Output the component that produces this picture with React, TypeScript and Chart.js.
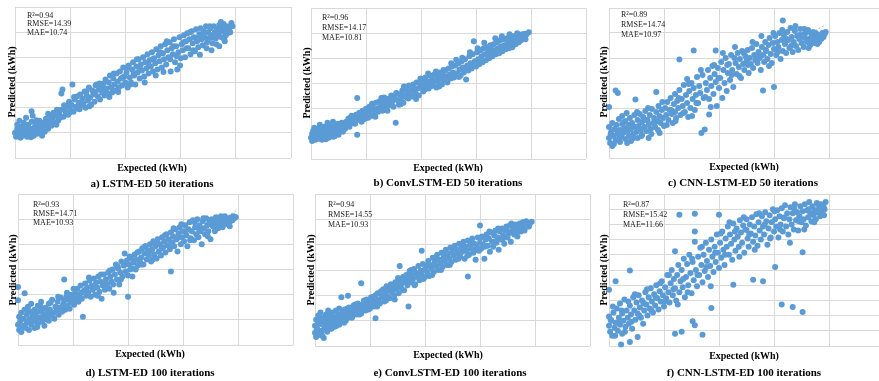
import React, { useEffect, useRef } from "react";
import { Chart, registerables } from "chart.js";
Chart.register(...registerables);

type P = [number, number];

const xMax = 250;
const xStep = 50;
const yMax = 300;
const yStepsByPanel = [50, 50, 50, 50, 50, 30];
const xAxisTitle = "Expected (kWh)";
const yAxisTitle = "Predicted (kWh)";
const captions = [
  "a) LSTM-ED 50 iterations",
  "b) ConvLSTM-ED 50 iterations",
  "c) CNN-LSTM-ED 50 iterations",
  "d) LSTM-ED 100 iterations",
  "e) ConvLSTM-ED 100 iterations",
  "f) CNN-LSTM-ED 100 iterations",
];
const r2Values = ["0.94", "0.96", "0.89", "0.93", "0.94", "0.87"];
const rmseValues = ["14.39", "14.17", "14.74", "14.71", "14.55", "15.42"];
const maeValues = ["10.74", "10.81", "10.97", "10.93", "10.93", "11.66"];

const lstmEd50: P[] = [
  [0,50],[1,42],[2,58],[2,66],[3,46],[4,54],[4,74],[5,40],[6,62],[6,50],[7,44],[8,70],[8,56],[9,48],[10,60],[10,80],[11,42],[12,52],[12,66],[13,46],[14,58],[15,72],[15,93],[16,50],[16,84],[17,44],[18,62],[18,54],[19,68],[20,48],[21,58],[22,74],[22,52],[23,64],[24,56],[25,70],[26,60],[27,52],[28,78],[29,64],[30,58],[30,88],
  [31,70],[32,80],[33,64],[34,76],[35,90],[36,70],[37,84],[38,96],[39,74],[40,88],[41,80],[42,96],[42,128],[43,136],[44,82],[45,98],[46,90],[47,104],[48,86],[49,112],[50,96],[51,106],[52,146],[53,92],[54,116],[55,102],[56,122],[57,98],[58,110],[59,126],[60,104],
  [61,118],[62,108],[63,132],[64,100],[65,124],[66,114],[67,140],[68,120],[69,106],[70,134],[71,126],[72,112],[73,144],[74,146],[75,122],[76,136],[77,116],[78,140],[79,130],[80,148],[81,124],[82,156],[83,138],[84,128],[85,150],[86,164],[87,140],[88,130],[89,158],[90,146],[91,134],[92,168],[93,152],[94,140],[95,172],[96,158],[97,144],[98,180],[99,162],[100,150],
  [101,170],[102,140],[103,184],[104,160],[105,150],[106,176],[107,190],[108,164],[109,146],[110,182],[111,170],[112,196],[113,158],[114,186],[115,174],[116,200],[117,162],[118,190],[119,178],[120,206],[121,168],[122,194],[123,182],[124,210],[125,172],[126,198],[127,188],[128,216],[129,176],[130,204],[131,192],[132,222],[133,180],[134,208],[135,196],[136,226],[137,186],[138,214],[139,200],[140,230],[141,172],[142,218],[143,206],[144,236],[145,190],[146,222],[147,176],[148,210],[149,240],[150,198],
  [151,226],[152,214],[153,244],[154,200],[155,232],[156,248],[157,218],[158,236],[159,206],[160,252],[161,228],[162,240],[163,212],[164,256],[165,232],[166,220],[167,246],[168,258],[169,236],[170,224],[171,252],[172,240],[173,262],[174,230],[175,250],[176,238],[177,258],[178,214],[178,244],[179,228],[180,262],[181,250],[182,238],[183,256],[184,246],[185,222],[185,264],[186,252],[187,240],[188,258],[189,266],[190,232],[190,250],[191,244],[192,262],[193,254],[194,258],[195,250],[196,268],[197,262],
  [3.5,57],[7.5,64],[11.5,55],[14.5,41],[19.5,75],[24.5,44],[27.5,70],[33.5,85],[37.5,66],[44.5,105],[49.5,90],[53.5,121],[58.5,97],[64.5,132],[67.5,103],[72.5,131],[76.5,148],[81.5,137],[85.5,121],[89.5,168],[93.5,131],[97.5,160],[101.5,180],[104.5,146],[107.5,168],[110.5,196],[113.5,176],[117.5,150],[120.5,188],[124.5,196],[127.5,164],[131.5,210],[134.5,171],[137.5,232],[140.5,196],[143.5,222],[146.5,202],[149.5,184],[152.5,230],[155.5,218],[158.5,250],[161.5,214],[164.5,238],[167.5,205],[170.5,244],[173.5,218],[176.5,262],[179.5,240],[182.5,226],[186.5,270],[189.5,236],[192.5,248],[195.5,262],
];

const convLstmEd50: P[] = [
  [0,42],[1,50],[1,36],[2,56],[3,44],[3,62],[4,38],[5,52],[6,46],[6,60],[7,40],[8,54],[8,68],[9,46],[10,58],[10,38],[11,50],[12,64],[12,44],[13,56],[14,48],[15,62],[15,72],[16,42],[17,54],[18,66],[18,48],[19,58],[20,44],[20,74],[21,62],[22,52],[23,68],[24,56],[25,48],[26,64],[27,58],[28,72],[29,54],[30,66],
  [31,60],[32,74],[33,68],[34,80],[35,64],[36,76],[37,86],[38,72],[39,82],[40,70],[41,88],[42,121],[42,48],[43,78],[44,92],[45,84],[46,74],[47,96],[48,86],[49,80],[50,100],[51,90],[52,82],[53,104],[54,94],[55,86],[56,108],[57,98],[58,90],[59,112],[60,100],[61,94],[62,114],[63,104],[64,121],[65,96],[66,110],[67,118],[68,102],[69,112],[70,106],
  [71,120],[72,108],[73,126],[74,114],[75,104],[76,122],[77,72],[78,130],[79,116],[80,108],[81,128],[82,120],[83,136],[84,112],[85,126],[86,140],[87,122],[88,132],[89,146],[90,128],[91,138],[92,124],[93,148],[94,136],[95,130],[96,152],[97,140],[98,126],[99,150],[100,142],[101,156],[102,134],[103,148],[104,162],[105,144],[106,154],[107,140],[108,166],[109,150],[110,158],[111,146],[112,168],[113,156],[114,142],[115,164],[116,152],[117,172],[118,160],[119,148],[120,166],
  [121,156],[122,176],[123,164],[124,152],[125,180],[126,168],[127,160],[128,184],[129,172],[130,162],[131,186],[132,197],[133,170],[134,190],[135,178],[136,166],[137,194],[138,182],[139,172],[140,198],[141,158],[142,186],[143,176],[144,204],[145,190],[146,180],[147,208],[148,234],[149,194],[150,184],[151,212],[152,198],[153,188],[154,216],[155,204],[156,192],[157,220],[158,208],[159,196],[160,222],[161,212],[162,200],[163,226],[164,214],[165,204],
  [166,228],[167,216],[168,208],[169,232],[170,220],[171,210],[172,236],[173,224],[174,214],[175,238],[176,226],[177,218],[178,240],[179,230],[180,220],[181,242],[182,232],[183,222],[184,244],[185,234],[186,228],[187,246],[188,238],[189,232],[190,242],[191,236],[192,248],[193,240],[194,244],[195,238],[196,248],[198,252],
  [2.5,47],[5.5,41],[9.5,63],[13.5,39],[16.5,59],[21.5,45],[24.5,70],[28.5,60],[32.5,66],[35.5,82],[39.5,71],[43.5,90],[47.5,79],[51.5,97],[55.5,110],[58.5,84],[62.5,101],[66.5,122],[69.5,96],[73.5,118],[77.5,131],[81.5,109],[84.5,144],[88.5,120],[92.5,141],[95.5,119],[99.5,160],[103.5,138],[106.5,170],[109.5,145],[113.5,174],[116.5,144],[120.5,177],[123.5,159],[127.5,190],[130.5,170],[134.5,163],[137.5,201],[141.5,178],[144.5,212],[147.5,186],[151.5,220],[154.5,196],[157.5,231],[160.5,206],[163.5,219],[167.5,240],[170.5,212],[173.5,244],[177.5,226],[180.5,248],[184.5,230],[187.5,250],[191.5,241],[194.5,249],
];

const cnnLstmEd50: P[] = [
  [0,40],[0,62],[0,102],[1,30],[2,52],[3,24],[3,70],[4,44],[5,58],[6,135],[6,36],[7,66],[8,130],[8,48],[9,78],[10,56],[10,32],[11,42],[12,68],[12,84],[13,50],[14,60],[15,38],[15,74],[16,90],[17,54],[18,44],[18,66],[19,80],[20,58],[20,34],[21,70],[22,48],[23,86],[24,117],[24,62],[25,52],[26,76],[26,40],[27,64],[28,88],[29,56],[30,72],[30,46],[31,82],[32,62],[33,94],[34,54],[35,76],[36,66],[36,40],[37,86],[38,58],[39,98],[40,70],[41,80],[42,62],[43,132],[43,92],[44,74],[45,104],[46,50],[46,84],[47,70],[48,96],[49,80],[50,64],
  [51,100],[52,86],[53,112],[54,76],[55,96],[56,120],[57,88],[58,70],[59,108],[60,128],[60,92],[61,80],[62,114],[63,100],[64,197],[64,136],[65,86],[66,118],[67,104],[68,146],[69,92],[70,126],[71,158],[71,110],[72,82],[73,134],[74,100],[75,150],[76,118],[77,215],[77,140],[78,96],[79,126],[80,162],[81,110],[82,144],[83,130],[84,50],[85,166],[86,120],[87,57],[88,150],[89,136],[90,176],[91,87],[91,118],[92,160],[93,144],[94,184],[95,128],[96,168],[97,215],[97,152],[98,104],[99,180],[100,140],
  [101,160],[102,192],[103,120],[104,176],[105,150],[106,200],[107,134],[108,170],[109,188],[110,156],[111,206],[112,176],[113,142],[114,200],[115,190],[116,168],[117,210],[118,182],[119,198],[120,160],[121,214],[122,188],[123,176],[124,204],[125,194],[126,216],[127,170],[128,200],[129,188],[130,220],[131,180],[132,206],[133,196],[134,228],[135,190],[136,212],[137,200],[138,176],[139,222],[140,135],[140,206],[141,192],[142,232],[143,214],[144,198],[145,226],[146,240],[147,208],[148,190],[149,230],[150,142],[150,218],
  [151,244],[152,206],[153,232],[154,222],[155,250],[156,198],[157,236],[158,275],[158,214],[159,246],[160,228],[161,210],[162,252],[163,236],[164,220],[165,260],[166,242],[167,212],[168,232],[169,254],[170,224],[171,244],[172,216],[173,238],[174,258],[175,230],[176,246],[177,222],[178,240],[179,250],[180,232],[181,256],[182,238],[183,226],[184,248],[185,236],[186,242],[187,230],[188,250],[189,240],[190,246],[191,232],[192,244],[193,238],[194,250],[195,242],[196,248],[197,252],
  [1.5,48],[4.5,28],[7.5,54],[9.5,40],[13.5,72],[16.5,30],[19.5,62],[22.5,40],[25.5,92],[29.5,44],[32.5,76],[35.5,100],[38.5,48],[41.5,70],[44.5,56],[48.5,112],[52.5,66],[56.5,96],[60.5,74],[63.5,120],[67.5,90],[72.5,148],[75.5,84],[79.5,110],[83.5,176],[87.5,122],[92.5,102],[95.5,186],[99.5,160],[103.5,210],[107.5,186],[111.5,166],[114.5,222],[118.5,164],[122.5,210],[126.5,186],[130.5,232],[134.5,206],[138.5,244],[142.5,216],[145.5,184],[149.5,250],[153.5,212],[157.5,256],[161.5,238],[165.5,224],[169.5,264],[173.5,246],[177.5,258],[181.5,220],[185.5,252],[189.5,228],[193.5,246],
];

const lstmEd100: P[] = [
  [0,115],[0,89],[0,40],[1,30],[1,56],[2,46],[3,64],[3,26],[4,38],[5,52],[6,103],[6,70],[7,34],[8,60],[8,44],[9,76],[10,50],[10,30],[11,66],[12,40],[12,82],[13,56],[14,46],[15,70],[15,34],[16,60],[17,50],[18,78],[18,42],[19,66],[20,54],[21,86],[22,46],[22,70],[23,60],[24,38],[25,74],[26,54],[27,64],[28,48],[28,82],[29,70],[30,58],[31,90],[32,64],[33,52],[34,76],[35,68],[36,86],[37,60],[38,74],[39,94],[40,66],[41,80],[42,130],[42,88],[43,70],[44,96],
  [45,78],[46,90],[47,72],[48,100],[49,84],[50,94],[51,80],[52,104],[53,90],[54,112],[55,86],[56,100],[57,118],[58,92],[59,56],[60,108],[61,122],[62,98],[63,114],[64,104],[65,128],[66,96],[67,118],[68,110],[69,132],[70,100],[71,124],[72,114],[73,136],[74,106],[75,126],[76,92],[77,118],[78,140],[79,110],[80,130],[81,120],[82,144],[83,112],[84,136],[85,126],[86,150],[87,104],[88,140],[89,160],[90,130],[91,152],[92,120],[93,144],[94,166],[95,136],[96,158],[97,182],[98,146],[99,168],[100,96],[100,138],
  [101,160],[102,150],[103,172],[104,136],[105,164],[106,180],[107,150],[108,170],[109,158],[110,186],[111,164],[112,174],[113,192],[114,160],[115,182],[116,196],[117,170],[118,188],[119,178],[120,200],[121,166],[122,190],[123,206],[124,180],[125,196],[126,172],[127,210],[128,186],[129,200],[130,178],[131,214],[132,194],[133,206],[134,184],[135,220],[136,198],[137,210],[138,190],[139,146],[139,224],[140,204],[141,216],[142,196],[143,230],[144,210],[145,186],[146,222],[147,234],[148,200],[149,214],[150,226],
  [151,206],[152,238],[153,218],[154,196],[155,230],[156,244],[157,212],[158,226],[159,248],[160,208],[161,234],[162,220],[163,250],[164,214],[165,238],[166,226],[167,200],[168,246],[169,232],[170,220],[171,252],[172,238],[173,226],[174,244],[175,210],[176,250],[177,236],[178,246],[179,226],[180,254],[181,240],[182,232],[183,248],[184,242],[185,252],[186,234],[187,246],[188,256],[189,240],[190,250],[191,244],[192,252],[193,246],[194,254],[195,248],[196,256],[198,254],
  [2.5,50],[5.5,36],[8.5,72],[11.5,48],[14.5,62],[17.5,36],[20.5,76],[23.5,50],[26.5,70],[29.5,84],[33.5,64],[36.5,96],[40.5,76],[44.5,104],[47.5,88],[50.5,112],[54.5,96],[57.5,104],[61.5,110],[64.5,134],[68.5,116],[72.5,98],[75.5,140],[79.5,122],[83.5,148],[86.5,120],[90.5,156],[93.5,130],[97.5,160],[101.5,176],[104.5,152],[108.5,184],[112.5,160],[115.5,196],[119.5,186],[122.5,170],[126.5,206],[130.5,192],[133.5,218],[137.5,198],[141.5,232],[145.5,214],[148.5,240],[152.5,226],[156.5,208],[160.5,244],[164.5,230],[168.5,252],[172.5,216],[176.5,242],[180.5,232],[184.5,256],[188.5,244],[192.5,236],[196.5,252],
];

const convLstmEd100: P[] = [
  [0,40],[0,26],[1,52],[1,18],[2,34],[3,60],[3,44],[4,22],[5,50],[5,66],[6,30],[7,42],[8,56],[8,16],[9,36],[10,62],[10,46],[11,28],[12,54],[12,70],[13,40],[14,60],[15,34],[15,48],[16,66],[17,44],[18,56],[18,38],[19,70],[20,50],[21,62],[22,42],[22,74],[23,56],[24,96],[24,48],[25,66],[26,58],[27,72],[28,50],[29,64],[30,99],[30,56],[31,76],[32,62],[33,70],[34,58],[35,80],[36,66],[37,74],[38,62],[39,84],[40,70],[41,78],[42,124],[42,64],
  [43,82],[44,74],[45,88],[46,70],[47,92],[48,80],[49,86],[50,74],[51,96],[52,84],[53,90],[54,78],[55,55],[55,100],[56,88],[57,104],[58,92],[59,84],[60,108],[61,96],[62,112],[63,88],[64,104],[65,118],[66,98],[67,110],[68,94],[69,122],[70,106],[71,116],[72,100],[73,126],[74,112],[75,120],[76,104],[77,158],[77,130],[78,116],[79,124],[80,136],[81,110],[82,128],[83,140],[84,120],[85,78],[85,134],[86,148],[87,126],[88,140],[89,132],[90,152],[91,122],[92,144],[93,136],[94,158],[95,130],[96,148],[97,188],[97,140],[98,162],[99,150],[100,136],
  [101,156],[102,146],[103,168],[104,138],[105,160],[106,152],[107,174],[108,146],[109,166],[110,158],[111,180],[112,150],[113,170],[114,162],[115,184],[116,156],[117,176],[118,168],[119,190],[120,160],[121,182],[122,172],[123,194],[124,166],[125,186],[126,178],[127,198],[128,170],[129,190],[130,182],[131,202],[132,176],[133,194],[134,186],[135,206],[136,172],[137,196],[138,188],[139,137],[139,208],[140,180],[141,200],[142,192],[143,212],[144,184],[145,202],[146,170],[147,196],[148,214],[149,188],[150,238],[150,204],
  [151,192],[152,216],[153,200],[154,172],[155,210],[156,220],[157,198],[158,212],[159,186],[160,224],[161,206],[162,196],[163,218],[164,228],[165,204],[166,214],[167,190],[168,226],[169,210],[170,232],[171,218],[172,202],[173,228],[174,236],[175,214],[176,222],[177,238],[178,206],[179,226],[180,234],[181,220],[182,240],[183,228],[184,216],[185,236],[186,242],[187,226],[188,234],[189,244],[190,230],[191,238],[192,246],[193,236],[194,242],[195,240],[197,245],
  [1.5,30],[4.5,56],[6.5,20],[9.5,46],[12.5,34],[16.5,52],[19.5,40],[22.5,62],[26.5,46],[29.5,74],[33.5,56],[36.5,82],[40.5,62],[44.5,90],[48.5,72],[52.5,96],[56.5,78],[60.5,102],[64.5,90],[68.5,112],[72.5,92],[75.5,134],[79.5,110],[83.5,126],[87.5,150],[90.5,120],[94.5,142],[98.5,132],[102.5,160],[106.5,140],[110.5,172],[114.5,150],[118.5,180],[122.5,160],[126.5,192],[130.5,172],[134.5,196],[138.5,178],[142.5,204],[146.5,190],[150.5,214],[154.5,196],[158.5,226],[162.5,206],[166.5,232],[170.5,210],[174.5,228],[178.5,242],[182.5,222],[186.5,238],[190.5,228],[194.5,236],
];

const cnnLstmEd100: P[] = [
  [0,111],[0,40],[0,58],[1,28],[2,50],[3,20],[4,66],[5,36],[6,128],[6,46],[7,74],[8,30],[9,56],[10,84],[10,42],[11,3],[12,64],[12,24],[13,50],[14,92],[15,38],[16,70],[17,56],[18,44],[19,149],[19,8],[19,80],[20,62],[21,34],[22,96],[23,70],[24,52],[25,86],[26,18],[26,64],[27,100],[28,76],[29,56],[30,90],[31,44],[32,70],[33,106],[34,82],[35,60],[36,96],[37,74],[38,114],[39,88],[40,66],[41,102],[42,80],[43,120],[44,94],[45,72],[46,108],[47,88],[48,128],[49,100],
  [50,78],[51,116],[52,94],[53,140],[54,106],[55,86],[56,124],[57,150],[58,100],[59,132],[60,187],[60,24],[60,114],[61,90],[62,140],[63,160],[64,259],[64,106],[65,128],[66,28],[66,150],[67,116],[68,172],[69,96],[70,136],[71,162],[72,120],[73,180],[74,144],[75,104],[76,49],[76,166],[77,130],[78,261],[78,226],[78,206],[78,41],[79,150],[80,118],[81,176],[82,140],[83,194],[84,160],[85,22],[85,126],[86,180],[87,148],[88,204],[89,168],[90,136],[91,190],[92,158],[93,75],[93,210],[94,176],[95,146],[96,196],[97,166],[98,220],[99,184],[100,259],[100,154],
  [101,204],[102,174],[103,226],[104,190],[105,160],[106,212],[107,196],[108,236],[109,180],[110,220],[111,202],[112,170],[113,121],[113,242],[114,210],[115,188],[116,232],[117,216],[118,196],[119,248],[120,224],[121,204],[122,238],[123,184],[124,230],[125,229],[125,250],[126,212],[127,196],[128,240],[129,222],[130,254],[131,131],[131,206],[132,236],[133,218],[134,260],[135,198],[136,244],[137,228],[138,210],[139,256],[140,128],[140,236],[141,220],[142,264],[143,246],[144,200],[145,232],[146,258],[147,214],[148,244],[149,270],[150,226],
  [151,156],[151,250],[152,236],[153,268],[154,214],[155,256],[156,240],[157,82],[157,272],[158,226],[159,252],[160,278],[161,236],[162,262],[163,220],[164,250],[165,274],[166,240],[167,77],[167,262],[168,230],[169,280],[170,248],[171,264],[172,228],[173,256],[174,276],[175,244],[176,67],[176,185],[176,266],[177,250],[178,280],[179,238],[180,268],[181,254],[182,284],[183,262],[184,246],[185,276],[186,258],[187,268],[188,250],[189,282],[190,264],[191,272],[192,256],[193,280],[194,266],[195,276],[196,270],[197,284],
  [1.5,52],[3.5,78],[5.5,20],[8.5,46],[11.5,70],[14.5,28],[17.5,88],[20.5,48],[23.5,102],[27.5,60],[31.5,84],[34.5,112],[38.5,70],[42.5,96],[46.5,124],[50.5,88],[54.5,140],[58.5,112],[62.5,82],[67.5,132],[71.5,106],[75.5,172],[80.5,140],[84.5,196],[88.5,156],[92.5,118],[96.5,184],[101.5,222],[105.5,180],[109.5,244],[114.5,226],[118.5,176],[122.5,254],[127.5,220],[132.5,190],[136.5,262],[141.5,240],[146.5,212],[150.5,266],[155.5,230],[159.5,254],[164.5,204],[168.5,270],[172.5,246],[177.5,230],[181.5,270],[186.5,244],[190.5,280],[195.5,258],
];

const panelData = [lstmEd50, convLstmEd50, cnnLstmEd50, lstmEd100, convLstmEd100, cnnLstmEd100];

const LAYOUT = [
  { l: 15, t: 7, w: 276, h: 151, yT: [11, 82], xT: [152, 167], cap: [152, 183], an: [27, 12], lh: 8.3 },
  { l: 311, t: 8, w: 275, h: 151, yT: [306, 83], xT: [448, 167], cap: [448, 182], an: [322, 13], lh: 10 },
  { l: 609, t: 8, w: 275, h: 150, yT: [603, 82], xT: [744, 166], cap: [743, 182], an: [621, 10], lh: 10 },
  { l: 18, t: 194, w: 275, h: 151, yT: [12, 270], xT: [150, 353], cap: [150, 372], an: [33, 200], lh: 9 },
  { l: 315, t: 194, w: 275, h: 152, yT: [310, 270], xT: [448, 354], cap: [450, 372], an: [328, 200], lh: 10 },
  { l: 609, t: 194, w: 275, h: 152, yT: [603, 270], xT: [744, 355], cap: [744, 372], an: [623, 200], lh: 10 },
];

const PAD = 5;
const SERIF = '"Liberation Serif", "Times New Roman", serif';

function Panel({ idx }: { idx: number }) {
  const ref = useRef<HTMLCanvasElement>(null);
  const lay = LAYOUT[idx];
  const pts = panelData[idx];
  useEffect(() => {
    const n = pts.length;
    let sx = 0, sy = 0, sxx = 0, sxy = 0, mn = Infinity, mx = -Infinity;
    for (const [x, y] of pts) { sx += x; sy += y; sxx += x * x; sxy += x * y; mn = Math.min(mn, x); mx = Math.max(mx, x); }
    const b = (n * sxy - sx * sy) / (n * sxx - sx * sx);
    const a = (sy - b * sx) / n;
    const chart = new Chart(ref.current!, {
      type: "scatter",
      data: {
        datasets: [
          {
            type: "line",
            data: [{ x: mn, y: a + b * mn }, { x: mx, y: a + b * mx }],
            borderColor: "rgba(140,170,200,0.8)",
            borderWidth: 1,
            borderDash: [2, 2],
            pointRadius: 0,
            fill: false,
            order: 2,
          } as any,
          {
            data: pts.map(([x, y]) => ({ x, y })),
            backgroundColor: "#5B9BD5",
            borderWidth: 0,
            pointRadius: 3,
            clip: false,
            order: 1,
          } as any,
        ],
      },
      options: {
        responsive: false,
        animation: false,
        layout: { padding: PAD },
        plugins: { legend: { display: false }, tooltip: { enabled: false } },
        scales: {
          x: {
            type: "linear", min: 0, max: xMax,
            ticks: { display: false, stepSize: xStep },
            grid: { color: "#d9d9d9", drawTicks: false },
            border: { display: false },
          },
          y: {
            type: "linear", min: 0, max: yMax,
            ticks: { display: false, stepSize: yStepsByPanel[idx] },
            grid: { color: "#d9d9d9", drawTicks: false },
            border: { display: false },
          },
        },
      },
    });
    return () => chart.destroy();
  }, []);
  const abs: React.CSSProperties = { position: "absolute", whiteSpace: "nowrap", fontFamily: SERIF, color: "#000" };
  return (
    <>
      <canvas
        ref={ref}
        width={lay.w + 2 * PAD}
        height={lay.h + 2 * PAD}
        style={{ position: "absolute", left: lay.l - PAD, top: lay.t - PAD, width: lay.w + 2 * PAD, height: lay.h + 2 * PAD }}
      />
      <div style={{ ...abs, left: lay.yT[0], top: lay.yT[1], transform: "translate(-50%,-50%) rotate(-90deg)", fontSize: 10, fontWeight: "bold" }}>{yAxisTitle}</div>
      <div style={{ ...abs, left: lay.xT[0], top: lay.xT[1], transform: "translate(-50%,-50%)", fontSize: 10, fontWeight: "bold" }}>{xAxisTitle}</div>
      <div style={{ ...abs, left: lay.cap[0], top: lay.cap[1], transform: "translate(-50%,-50%)", fontSize: 11, fontWeight: "bold" }}>{captions[idx]}</div>
      <div style={{ ...abs, left: lay.an[0], top: lay.an[1], fontSize: 8, lineHeight: lay.lh + "px", color: "#222" }}>
        <div>R²={r2Values[idx]}</div>
        <div>RMSE={rmseValues[idx]}</div>
        <div>MAE={maeValues[idx]}</div>
      </div>
    </>
  );
}

export default function App() {
  return (
    <div style={{ position: "absolute", left: 0, top: 0, width: 879, height: 381, overflow: "hidden", background: "#fff" }}>
      {[0, 1, 2, 3, 4, 5].map((i) => <Panel key={i} idx={i} />)}
    </div>
  );
}
